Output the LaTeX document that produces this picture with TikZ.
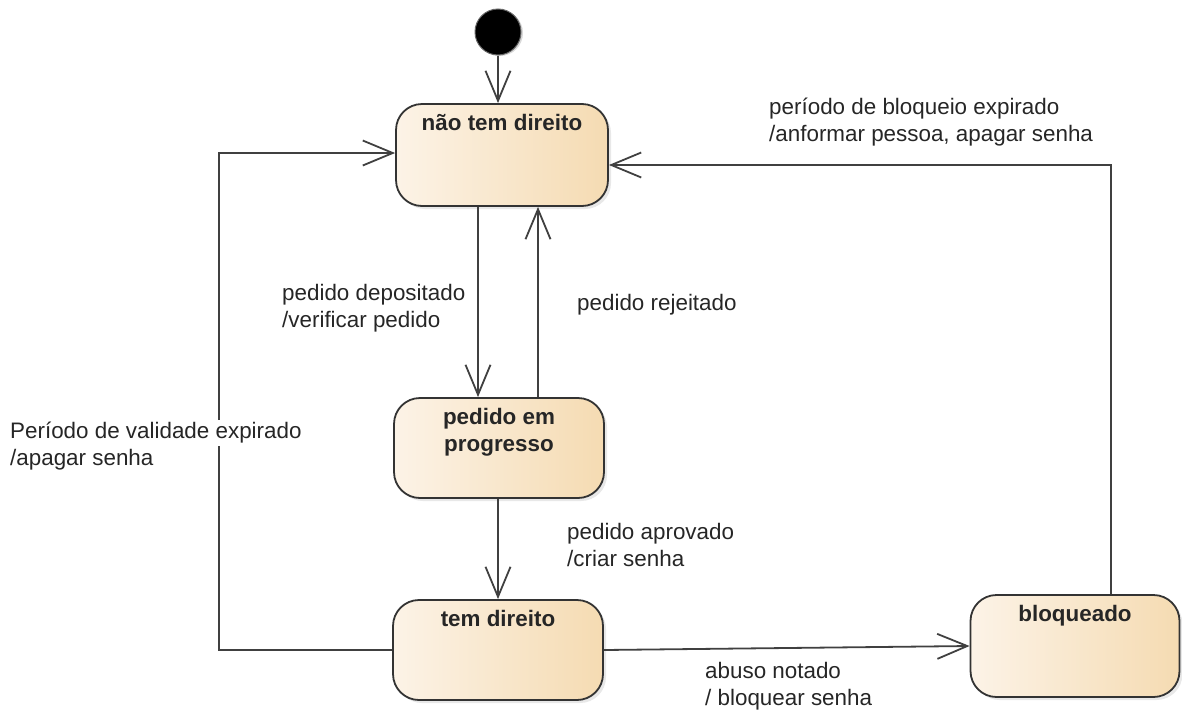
\documentclass[tikz,border=0pt]{standalone}
\usepackage{fontspec}
\setmainfont{Liberation Sans}
\usepackage{tikz}
\usetikzlibrary{arrows.meta, shadows}

\definecolor{stateleft}{HTML}{FCF3E7}
\definecolor{stateright}{HTML}{F5DBB2}
\definecolor{stateline}{HTML}{333333}

\begin{document}
\begin{tikzpicture}[
            x=1pt, y=-1pt,
            state/.style={rectangle, rounded corners=26pt, draw=stateline, line width=1.8pt,
                          left color=stateleft, right color=stateright,
                          drop shadow={shadow xshift=3pt, shadow yshift=-3pt, opacity=0.18}}, % state box
            title/.style={anchor=north, inner sep=0pt, yshift=-11pt, align=center,
                          font=\fontsize{22.4}{27}\selectfont\bfseries, text=black!85}, % state name
            trans/.style={draw=black!75, line width=1.8pt,
                          -{Straight Barb[length=30pt, width=25pt, line width=1.8pt]}}, % transition
            lbl/.style={anchor=west, inner sep=0pt, align=left,
                        font=\fontsize{22.4}{27}\selectfont, text=black!85} % transition text
            ]
    \useasboundingbox (0,0) rectangle (1182,715);

    % initial state
    \node[circle, fill=black, draw=black!60, line width=1pt, minimum size=46pt, inner sep=0pt,
          drop shadow={shadow xshift=2pt, shadow yshift=-1pt, opacity=0.3}] (init) at (498,32) {};

    % states
    \node[state, minimum width=212pt, minimum height=102pt] (nao) at (502,155)
        {}; \node[title] at (nao.north) {não tem direito};
    \node[state, minimum width=210pt, minimum height=100pt] (ped) at (499,448)
        {}; \node[title] at (ped.north) {pedido em\\progresso};
    \node[state, minimum width=210pt, minimum height=100pt] (tem) at (498,650)
        {}; \node[title] at (tem.north) {tem direito};
    \node[state, minimum width=209pt, minimum height=102pt] (blo) at (1075,646)
        {}; \node[title] at (blo.north) {bloqueado};

    % transitions
    \draw[trans] (init) -- (init |- nao.north);
    \draw[trans] ([xshift=-24pt]nao.south) -- ([xshift=-24pt]nao.south |- ped.north);
    \draw[trans] ([xshift=36pt]nao.south |- ped.north) -- ([xshift=36pt]nao.south);
    \draw[trans] (ped.south -| tem.north) -- (tem.north);
    \draw[trans] (tem.east) -- (blo.west);
    \draw[trans] (tem.west) -- ++(-173,0) |- ([yshift=2pt]nao.west);
    \draw[trans] ([xshift=36pt]blo.north) |- ([yshift=-10pt]nao.east);

    % transition texts
    \node[lbl] (blk) at (769,122.5) {período de bloqueio expirado\\/anformar pessoa, apagar senha};
    \node[lbl] (dep) at (282,308.5) {pedido depositado\\/verificar pedido};
    \node[lbl] (rej) at (577,305) {pedido rejeitado};
    \node[lbl, fill=white, inner ysep=2pt] (val) at (10,433) {Período de validade expirado};
    \node[lbl] (vala) at (10,460) {/apagar senha};
    \node[lbl] (apr) at (567,545) {pedido aprovado\\/criar senha};
    \node[lbl] (abu) at (705,686.5) {abuso notado\\/ bloquear senha};

\end{tikzpicture}
\end{document}
